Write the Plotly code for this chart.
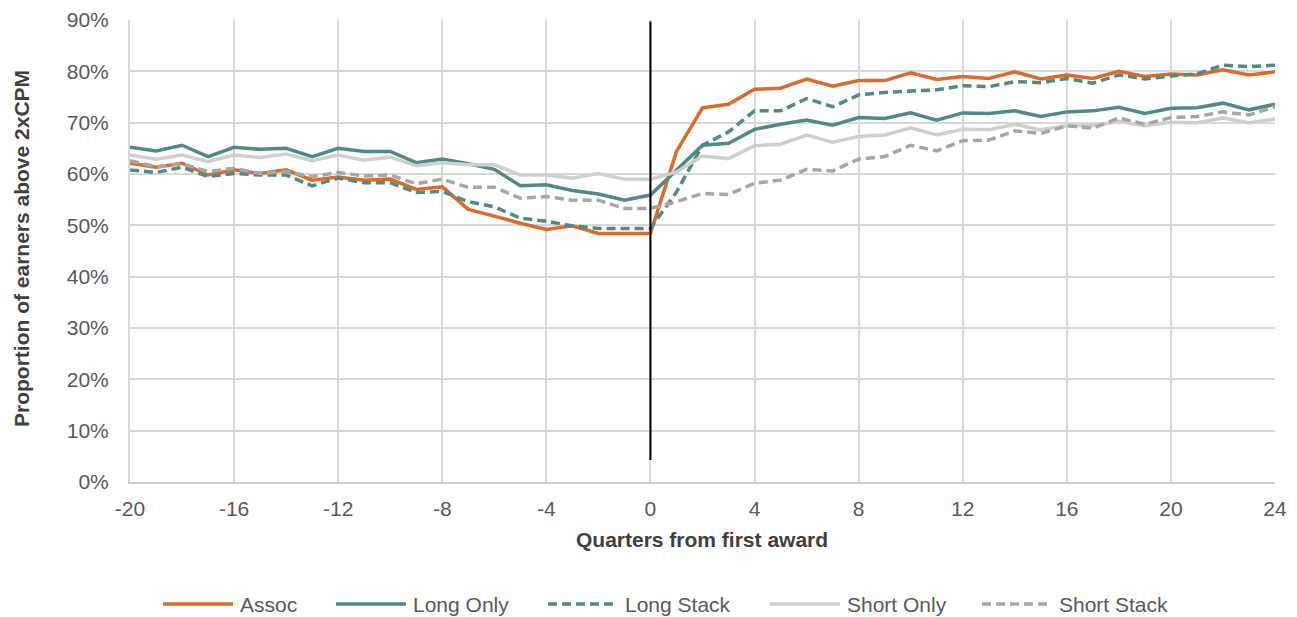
import plotly.graph_objects as go

quarters = list(range(-20, 25))

assoc = [62.1, 61.3, 62.1, 59.8, 60.8, 60.1, 60.8, 58.8, 59.4, 58.8,
         59.0, 57.0, 57.5, 53.1, 51.8, 50.4, 49.2, 49.9, 48.4, 48.4,
         48.4, 64.4, 72.9, 73.6, 76.5, 76.7, 78.5, 77.1, 78.2, 78.2,
         79.7, 78.4, 79.0, 78.6, 79.9, 78.5, 79.3, 78.6, 80.0, 79.0,
         79.5, 79.3, 80.3, 79.3, 79.9]

long_only = [65.2, 64.5, 65.6, 63.4, 65.2, 64.8, 65.0, 63.4, 65.0, 64.4,
             64.4, 62.2, 62.9, 62.0, 60.9, 57.7, 57.9, 56.8, 56.1, 54.9,
             55.9, 60.8, 65.6, 66.0, 68.7, 69.7, 70.5, 69.5, 71.0, 70.8,
             71.9, 70.5, 71.9, 71.8, 72.3, 71.2, 72.1, 72.3, 73.0, 71.8,
             72.8, 72.9, 73.8, 72.5, 73.6]

long_stack = [60.8, 60.3, 61.3, 59.5, 60.1, 59.8, 59.8, 57.7, 59.2, 58.3,
              58.3, 56.4, 56.6, 54.6, 53.6, 51.4, 50.8, 49.9, 49.4, 49.4,
              49.4, 56.5, 65.6, 68.2, 72.3, 72.3, 74.7, 73.1, 75.4, 75.9,
              76.2, 76.4, 77.2, 77.0, 78.0, 77.8, 78.6, 77.7, 79.3, 78.5,
              79.1, 79.5, 81.2, 80.9, 81.2]

short_only = [63.7, 62.9, 63.7, 62.4, 63.7, 63.2, 63.9, 62.6, 63.7, 62.7,
              63.3, 61.6, 62.2, 61.8, 61.8, 59.8, 59.8, 59.2, 60.1, 59.0,
              59.0, 60.4, 63.5, 63.0, 65.5, 65.8, 67.6, 66.2, 67.3, 67.6,
              69.0, 67.6, 68.7, 68.6, 69.7, 68.6, 69.4, 69.4, 70.2, 69.4,
              70.1, 70.0, 70.9, 70.0, 70.7]

short_stack = [62.6, 61.4, 62.0, 60.5, 61.1, 60.1, 60.5, 59.5, 60.3, 59.6,
               59.8, 58.1, 59.0, 57.4, 57.4, 55.3, 55.6, 54.9, 54.9, 53.3,
               53.3, 54.6, 56.2, 56.0, 58.2, 58.8, 60.9, 60.6, 62.9, 63.4,
               65.6, 64.5, 66.5, 66.6, 68.4, 67.9, 69.4, 68.9, 70.9, 69.7,
               71.0, 71.2, 72.1, 71.5, 73.1]

x_ticks = list(range(-20, 25, 4))
y_ticks = [0, 10, 20, 30, 40, 50, 60, 70, 80, 90]

FONT = "Liberation Sans, Arial, sans-serif"
FS = 21
TICK_COLOR = "#595959"
TITLE_COLOR = "#404040"
DASH = "9px,5px"

# the page body adds an 8px offset; size the figure to fit the window
OFF = 8
W, H = 1297 - OFF, 617 - OFF
ML, MT = 130 - OFF, 20 - OFF
MR = W - (1275 - OFF)
MB = H - (482 - OFF)
PW = W - ML - MR
PH = H - MT - MB

series = [
    ("Assoc", assoc, "#DA6B2A", "solid"),
    ("Long Only", long_only, "#508A85", "solid"),
    ("Long Stack", long_stack, "#508A85", DASH),
    ("Short Only", short_only, "#CFCFCF", "solid"),
    ("Short Stack", short_stack, "#A6A6A6", DASH),
]

fig = go.Figure()
for name, vals, color, dash in series:
    fig.add_trace(go.Scatter(
        x=quarters, y=[v / 100 for v in vals], mode="lines", name=name,
        line=dict(color=color, width=3.5, dash=dash), showlegend=False,
    ))

# vertical marker at quarter 0
fig.add_shape(type="line", xref="x", yref="y", x0=0, x1=0, y0=0.043, y1=0.897,
              line=dict(color="black", width=2))


def px_to_paper_x(px):
    return (px - OFF - ML) / PW


def px_to_paper_y(py):
    return (H - MB - (py - OFF)) / PH


# manual legend (long line samples like the original)
legend_y = px_to_paper_y(604)
legend_starts = [163, 336, 548, 770, 982]
for (name, vals, color, dash), x0 in zip(series, legend_starts):
    fig.add_shape(type="line", xref="paper", yref="paper",
                  x0=px_to_paper_x(x0), x1=px_to_paper_x(x0 + 70),
                  y0=legend_y, y1=legend_y,
                  line=dict(color=color, width=3.5, dash=dash))
    fig.add_annotation(xref="paper", yref="paper", x=px_to_paper_x(x0 + 75), y=legend_y,
                       text=name, showarrow=False, xanchor="left", yanchor="middle",
                       font=dict(family=FONT, size=FS, color=TICK_COLOR))

# axis titles
fig.add_annotation(xref="paper", yref="paper", x=px_to_paper_x(702), y=px_to_paper_y(539),
                   text="<b>Quarters from first award</b>", showarrow=False,
                   xanchor="center", yanchor="middle",
                   font=dict(family=FONT, size=FS, color=TITLE_COLOR))
fig.add_annotation(xref="paper", yref="paper", x=px_to_paper_x(21), y=px_to_paper_y(249),
                   text="<b>Proportion of earners above 2xCPM</b>", showarrow=False,
                   textangle=-90, xanchor="center", yanchor="middle",
                   font=dict(family=FONT, size=FS, color=TITLE_COLOR))

fig.update_layout(
    width=W, height=H,
    margin=dict(l=ML, r=MR, t=MT, b=MB, autoexpand=False),
    paper_bgcolor="white", plot_bgcolor="white",
    font=dict(family=FONT, size=FS, color=TICK_COLOR),
    showlegend=False,
)
fig.update_xaxes(
    range=[-20, 24], tickmode="array", tickvals=x_ticks,
    ticktext=[str(t) for t in x_ticks],
    showgrid=True, gridcolor="#D9D9D9", gridwidth=2,
    showline=True, linecolor="#D0D0D0", linewidth=2,
    zeroline=False, ticks="outside", ticklen=7, tickcolor="rgba(0,0,0,0)",
    tickfont=dict(family=FONT, size=FS, color=TICK_COLOR), automargin=False,
)
fig.update_yaxes(
    range=[0, 0.9], tickmode="array", tickvals=[v / 100 for v in y_ticks],
    ticktext=[f"{v}%" for v in y_ticks],
    showgrid=True, gridcolor="#D9D9D9", gridwidth=2,
    showline=True, linecolor="#D9D9D9", linewidth=2,
    zeroline=False, ticks="outside", ticklen=15, tickcolor="rgba(0,0,0,0)",
    tickfont=dict(family=FONT, size=FS, color=TICK_COLOR), automargin=False,
)

fig.write_html("out.html")
